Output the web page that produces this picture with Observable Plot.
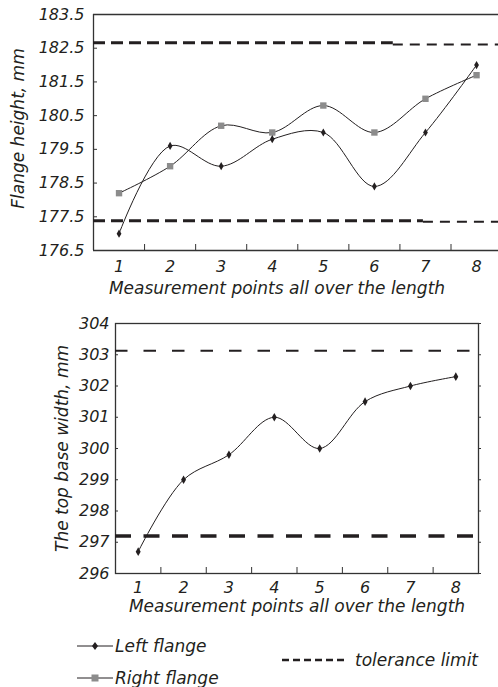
<!DOCTYPE html>
<html><head><meta charset="utf-8">
<script src="https://cdn.jsdelivr.net/npm/d3@7"></script>
<script src="https://cdn.jsdelivr.net/npm/@observablehq/plot@0.6"></script>
<style>
body{margin:0;background:#fff;}
#wrap{position:relative;width:498px;height:687px;overflow:hidden;font-family:"DejaVu Sans",sans-serif;font-style:italic;color:#231f20;}
#top,#bottom{position:absolute;left:0;}
#top{top:0px}
#bottom{top:300px}
.leg{position:absolute;font-size:17px;line-height:20px;white-space:nowrap;}
.sw{position:absolute;}
</style></head><body>
<div id="wrap"><div id="top"></div><div id="bottom"></div>
<svg class="sw" style="left:77px;top:640px" width="36" height="12"><line x1="0" y1="6" x2="36" y2="6" stroke="#231f20" stroke-width="1"/><polygon points="18,2 21,6 18,10 15,6" fill="#231f20"/></svg>
<div class="leg" style="left:115px;top:636px">Left flange</div>
<svg class="sw" style="left:77px;top:672px" width="36" height="12"><line x1="0" y1="6" x2="36" y2="6" stroke="#231f20" stroke-width="1"/><rect x="14.5" y="2.5" width="7" height="7" fill="#8c8c8c"/></svg>
<div class="leg" style="left:115px;top:668px">Right flange</div>
<svg class="sw" style="left:282px;top:654px" width="66" height="12"><line x1="0" y1="6" x2="66" y2="6" stroke="#231f20" stroke-width="2.5" stroke-dasharray="7,4"/></svg>
<div class="leg" style="left:355px;top:650px">tolerance limit</div>
</div>
<script>
// ---- data ----
const points = [1, 2, 3, 4, 5, 6, 7, 8];
const pointLabels = ["1", "2", "3", "4", "5", "6", "7", "8"];
const betweenPoints = [1.5, 2.5, 3.5, 4.5, 5.5, 6.5, 7.5];
const leftFlangeHeight = [177.0, 179.6, 179.0, 179.8, 180.0, 178.4, 180.0, 182.0];
const rightFlangeHeight = [178.2, 179.0, 180.2, 180.0, 180.8, 180.0, 181.0, 181.7];
const topBaseWidth = [296.7, 299.0, 299.8, 301.0, 300.0, 301.5, 302.0, 302.3];
const heightTicks = [176.5, 177.5, 178.5, 179.5, 180.5, 181.5, 182.5, 183.5];
const widthTicks = [296, 297, 298, 299, 300, 301, 302, 303, 304];
// tolerance limits (flange height): heavy part then light part
const heightUpperLimit = [182.66, 182.61];
const heightLowerLimit = [177.38, 177.35];
const heightUpperBreak = [0.5, 6.37, 8.43];
const heightLowerBreak = [0.5, 6.96, 8.43];
const widthLimits = [303.13, 297.2];
const xLabel = "Measurement points all over the length";
const yLabelTop = "Flange height, mm";
const yLabelBottom = "The top base width, mm";

const ink = "#231f20";
const axisInk = "#333";
const topXDomain = [0.5, 8.43];
const botXDomain = [0.5, 8.5];

const topRows = points.map((p, i) => ({p, left: leftFlangeHeight[i], right: rightFlangeHeight[i]}));
const botRows = points.map((p, i) => ({p, w: topBaseWidth[i]}));
const seg = (vals, br) => vals.map((v, i) => ({x1: br[i], x2: br[i + 1], y: v}));
const upperSegs = seg(heightUpperLimit, heightUpperBreak);
const lowerSegs = seg(heightLowerLimit, heightLowerBreak);
const heavy = [upperSegs[0], lowerSegs[0]];
const light = [upperSegs[1], lowerSegs[1]];

const baseStyle = {fontFamily: "DejaVu Sans", fontStyle: "italic", fontSize: "16px", color: ink, background: "#fff", overflow: "visible"};

const topPlot = Plot.plot({
  width: 498, height: 300,
  marginLeft: 93, marginRight: 0, marginTop: 14, marginBottom: 50,
  style: baseStyle,
  x: {domain: topXDomain},
  y: {domain: [heightTicks[0], heightTicks[heightTicks.length - 1]]},
  marks: [
    Plot.ruleY([heightTicks[heightTicks.length - 1]], {stroke: axisInk, strokeWidth: 1.3}),
    Plot.ruleY([heightTicks[0]], {stroke: axisInk, strokeWidth: 1.3}),
    Plot.ruleX([topXDomain[0]], {stroke: axisInk, strokeWidth: 1.3}),
    Plot.axisY({ticks: heightTicks, tickSize: -4, tickPadding: 13, tickFormat: d => d.toFixed(1), label: null, stroke: axisInk}),
    Plot.axisX({ticks: points, tickSize: 0, tickPadding: 10, tickFormat: (d, i) => pointLabels[i], label: null}),
    Plot.axisX({ticks: betweenPoints, tickSize: -6, tickFormat: () => "", label: null, stroke: axisInk}),
    Plot.ruleY(heavy, {x1: "x1", x2: "x2", y: "y", stroke: ink, strokeWidth: 3, strokeDasharray: "12,6"}),
    Plot.ruleY(light, {x1: "x1", x2: "x2", y: "y", stroke: ink, strokeWidth: 2, strokeDasharray: "10,7"}),
    Plot.line(topRows, {x: "p", y: "right", curve: "catmull-rom", stroke: ink, strokeWidth: 1}),
    Plot.line(topRows, {x: "p", y: "left", curve: "catmull-rom", stroke: ink, strokeWidth: 1}),
    Plot.dot(topRows, {x: "p", y: "right", symbol: "square", r: 3.6, fill: "#8c8c8c"}),
    Plot.dot(topRows, {x: "p", y: "left", symbol: "diamond", r: 2.5, fill: ink}),
    Plot.text([xLabel], {text: d => d, frameAnchor: "bottom", textAnchor: "middle", dy: 43, dx: -19, fontSize: 17, fill: ink}),
    Plot.text([yLabelTop], {text: d => d, frameAnchor: "left", textAnchor: "middle", dx: -75, dy: -4, rotate: -90, fontSize: 17, fill: ink})
  ]
});
document.getElementById("top").append(topPlot);

const botPlot = Plot.plot({
  width: 498, height: 323,
  marginLeft: 115, marginRight: 20, marginTop: 23, marginBottom: 50,
  style: baseStyle,
  x: {domain: botXDomain},
  y: {domain: [widthTicks[0], widthTicks[widthTicks.length - 1]]},
  marks: [
    Plot.frame({stroke: axisInk, strokeWidth: 1.3}),
    Plot.axisY({ticks: widthTicks, tickSize: -3, tickPadding: 9, label: null, stroke: axisInk}),
    Plot.axisY({anchor: "right", ticks: widthTicks, tickSize: 2, tickFormat: () => "", label: null, stroke: axisInk}),
    Plot.axisX({ticks: points, tickSize: 0, tickPadding: 8, tickFormat: (d, i) => pointLabels[i], label: null}),
    Plot.axisX({ticks: betweenPoints, tickSize: -6, tickFormat: () => "", label: null, stroke: axisInk}),
    Plot.ruleY([widthLimits[0]], {stroke: ink, strokeWidth: 2, strokeDasharray: "12.5,16"}),
    Plot.ruleY([widthLimits[1]], {stroke: ink, strokeWidth: 3.5, strokeDasharray: "16,12.5"}),
    Plot.line(botRows, {x: "p", y: "w", curve: "catmull-rom", stroke: ink, strokeWidth: 1}),
    Plot.dot(botRows, {x: "p", y: "w", symbol: "diamond", r: 2.6, fill: ink}),
    Plot.text([xLabel], {text: d => d, frameAnchor: "bottom", textAnchor: "middle", dy: 38.5, fontSize: 17, fill: ink}),
    Plot.text([yLabelBottom], {text: d => d, frameAnchor: "left", textAnchor: "middle", dx: -53, rotate: -90, fontSize: 17, fill: ink})
  ]
});
document.getElementById("bottom").append(botPlot);
</script>
</body></html>
